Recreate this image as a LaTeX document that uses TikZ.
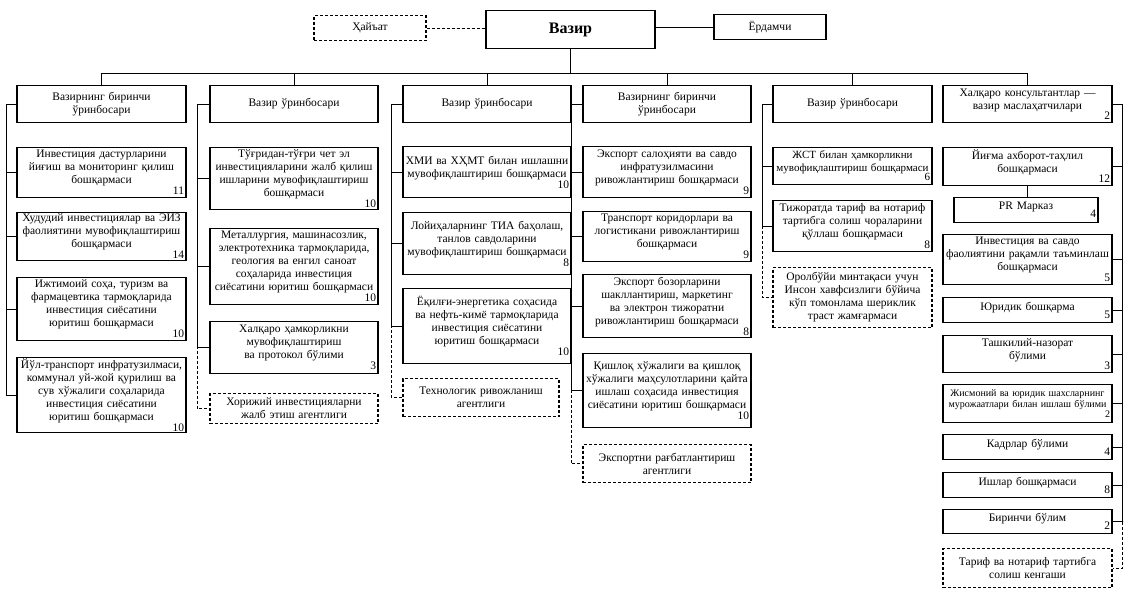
\documentclass[tikz,border=0pt]{standalone}
\usepackage{fontspec}
\setmainfont{Liberation Serif}
\newcommand\nr[2][-2pt]{\\[#1]\hspace*{\fill}#2}

\begin{document}
\begin{tikzpicture}[x=1pt, y=-1pt,
  unit/.style={draw, line width=1.1pt, anchor=north, inner xsep=2pt, inner ysep=1pt, align=center, font=\fontsize{11.5}{13}\selectfont},
  agency/.style={unit, dash pattern=on 3pt off 2pt},
  col1/.style={text width=165pt},
  col2/.style={text width=164pt},
  col5/.style={text width=155pt},
  link/.style={line width=1pt},
  dlink/.style={link, dash pattern=on 3pt off 2pt}]
\useasboundingbox (0,0) rectangle (1135,593);

% top
\node[unit, minimum width=169pt, minimum height=38pt, font=\fontsize{16}{18}\selectfont\bfseries] (vazir) at (570.5,10) {Вазир};
\node[agency, minimum width=112pt, minimum height=25pt] (hay) at (370,15) {Ҳайъат};
\node[unit, minimum width=112pt, minimum height=25pt] (yor) at (770,14) {Ёрдамчи};

% column 1
\node[unit, col1, minimum height=37pt] (h1) at (101.5,85) {Вазирнинг биринчи\\ўринбосари};
\node[unit, col1, minimum height=50pt] (a1) at (101.5,147) {Инвестиция дастурларини\\йиғиш ва мониторинг қилиш\\бошқармаси\nr{11}};
\node[unit, col1, minimum height=48pt] (a2) at (101.5,212) {Худудий инвестициялар ва ЭИЗ\\фаолиятини мувофиқлаштириш\\бошқармаси\nr{14}};
\node[unit, col1, minimum height=63pt] (a3) at (101.5,277) {Ижтимоий соҳа, туризм ва\\фармацевтика тармоқларида\\инвестиция сиёсатини\\юритиш бошқармаси\nr{10}};
\node[unit, col1, minimum height=75pt] (a4) at (101.5,357) {Йўл-транспорт инфратузилмаси,\\коммунал уй-жой қурилиш ва\\сув хўжалиги соҳаларида\\инвестиция сиёсатини\\юритиш бошқармаси\nr{10}};

% column 2
\node[unit, col2, minimum height=37pt] (h2) at (294,85) {Вазир ўринбосари};
\node[unit, col2, minimum height=62pt] (b1) at (294,147) {Тўғридан-тўғри чет эл\\инвестицияларини жалб қилиш\\ишларини мувофиқлаштириш\\бошқармаси\nr{10}};
\node[unit, col2, minimum height=76pt] (b2) at (294,228) {Металлургия, машинасозлик,\\электротехника тармоқларида,\\геология ва енгил саноат\\соҳаларида инвестиция\\сиёсатини юритиш бошқармаси\nr{10}};
\node[unit, col2, minimum height=52pt] (b3) at (294,321) {Халқаро ҳамкорликни\\мувофиқлаштириш\\ва протокол бўлими\nr{3}};
\node[agency, col2, minimum height=30pt] (ag2) at (294,393) {Хорижий инвестицияларни\\жалб этиш агентлиги};

% column 3
\node[unit, col2, minimum height=37pt] (h3) at (487,85) {Вазир ўринбосари};
\node[unit, col2, minimum height=51pt] (c1) at (487,146) {ХМИ ва ХҲМТ билан ишлашни\\мувофиқлаштириш бошқармаси\nr{10}};
\node[unit, col2, minimum height=62pt] (c2) at (487,212) {Лойиҳаларнинг ТИА баҳолаш,\\танлов савдоларини\\мувофиқлаштириш бошқармаси\nr{8}};
\node[unit, col2, minimum height=75pt] (c3) at (487,288) {Ёқилғи-энергетика соҳасида\\ва нефть-кимё тармоқларида\\инвестиция сиёсатини\\юритиш бошқармаси\nr{10}};
\node[agency, text width=152pt, minimum height=38pt] (ag3) at (481,378) {Технологик ривожланиш\\агентлиги};

% column 4
\node[unit, col2, minimum height=37pt] (h4) at (667,85) {Вазирнинг биринчи\\ўринбосари};
\node[unit, col2, minimum height=51pt] (d1) at (667,146) {Экспорт салоҳияти ва савдо\\инфратузилмасини\\ривожлантириш бошқармаси\nr{9}};
\node[unit, col2, minimum height=50pt] (d2) at (667,211) {Транспорт коридорлари ва\\логистикани ривожлантириш\\бошқармаси\nr{9}};
\node[unit, col2, minimum height=63pt] (d3) at (667,274) {Экспорт бозорларини\\шакллантириш, маркетинг\\ва электрон тижоратни\\ривожлантириш бошқармаси\nr{8}};
\node[unit, col2, minimum height=74pt] (d4) at (667,353) {Қишлоқ хўжалиги ва қишлоқ\\хўжалиги маҳсулотларини қайта\\ишлаш соҳасида инвестиция\\сиёсатини юритиш бошқармаси\nr{10}};
\node[agency, col2, minimum height=38pt] (ag4) at (667,444) {Экспортни рағбатлантириш\\агентлиги};

% column 5
\node[unit, col5, minimum height=37pt] (h5) at (852.5,85) {Вазир ўринбосари};
\node[unit, col5, minimum height=37pt, font=\fontsize{11}{12.5}\selectfont] (e1) at (852.5,147) {ЖСТ билан ҳамкорликни\\мувофиқлаштириш бошқармаси\nr[-3pt]{6}};
\node[unit, col5, minimum height=51pt] (e2) at (852.5,200) {Тижоратда тариф ва нотариф\\тартибга солиш чораларини\\қўллаш бошқармаси\nr{8}};
\node[agency, col5, minimum height=60pt] (ag5) at (852.5,267) {Оролбўйи минтақаси учун\\Инсон хавфсизлиги бўйича\\кўп томонлама шериклик\\траст жамғармаси};

% column 6
\node[unit, col1, minimum height=37pt] (h6) at (1027.5,85) {Халқаро консультантлар —\\вазир маслаҳатчилари\nr[-3pt]{2}};
\node[unit, col1, minimum height=38pt] (f1) at (1027.5,147) {Йиғма ахборот-таҳлил\\бошқармаси\nr[-3pt]{12}};
\node[unit, text width=140pt, minimum height=25pt] (pr) at (1026,197) {PR Марказ\nr[-5pt]{4}};
\node[unit, col1, minimum height=50pt] (f2) at (1027.5,234) {Инвестиция ва савдо\\фаолиятини рақамли таъминлаш\\бошқармаси\nr{5}};
\node[unit, col1, minimum height=25pt] (f3) at (1027.5,297) {Юридик бошқарма\nr[-5pt]{5}};
\node[unit, col1, minimum height=37pt] (f4) at (1027.5,335) {Ташкилий-назорат\\бўлими\nr[-3pt]{3}};
\node[unit, col1, minimum height=38pt, font=\fontsize{10}{11.5}\selectfont] (f5) at (1027.5,384) {Жисмоний ва юридик шахсларнинг\\мурожаатлари билан ишлаш бўлими\nr[-2pt]{2}};
\node[unit, col1, minimum height=25pt] (f6) at (1027.5,434) {Кадрлар бўлими\nr[-5pt]{4}};
\node[unit, col1, minimum height=25pt] (f7) at (1027.5,472) {Ишлар бошқармаси\nr[-5pt]{8}};
\node[unit, col1, minimum height=24pt] (f8) at (1027.5,509) {Биринчи бўлим\nr[-5pt]{2}};
\node[agency, col1, minimum height=39pt] (ag6) at (1027.5,548) {Тариф ва нотариф тартибга\\солиш кенгаши};

% links
\coordinate (bus) at (570.5,74);
\draw[link] (vazir.south) -- (bus);
\foreach \h in {h1,h2,h3,h4,h5,h6} { \draw[link] (bus) -| (\h.north); }
\draw[dlink] (hay.east) -- (hay.east -| vazir.west);
\draw[link] (yor.west -| vazir.east) -- (yor.west);

\foreach \n in {a1,a2,a3,a4} { \draw[link] (h1.west) -- ++(-10,0) |- (\n.west); }
\foreach \n in {b1,b2,b3} { \draw[link] (h2.west) -- ++(-12,0) |- (\n.west); }
\draw[dlink] (b3.west) -- ++(-12,0) |- (ag2.west);
\foreach \n in {c1,c2,c3} { \draw[link] (h3.west) -- ++(-11,0) |- (\n.west); }
\draw[dlink] (c3.west) -- ++(-11,0) |- (ag3.west);
\foreach \n in {d1,d2,d3,d4} { \draw[link] (h4.west) -- ++(-11,0) |- (\n.west); }
\draw[dlink] (d4.west) -- ++(-11,0) |- (ag4.west);
\foreach \n in {e1,e2} { \draw[link] (h5.west) -- ++(-10,0) |- (\n.west); }
\draw[dlink] (e2.west) -- ++(-10,0) |- (ag5.west);
\foreach \n in {f1,f2,f3,f4,f5,f6,f7,f8} { \draw[link] (h6.east) -- ++(10,0) |- (\n.east); }
\draw[dlink] (f8.east) -- ++(10,0) |- (ag6.east);
\draw[link] (f1.south) -- (f1.south |- pr.north);
\end{tikzpicture}
\end{document}
